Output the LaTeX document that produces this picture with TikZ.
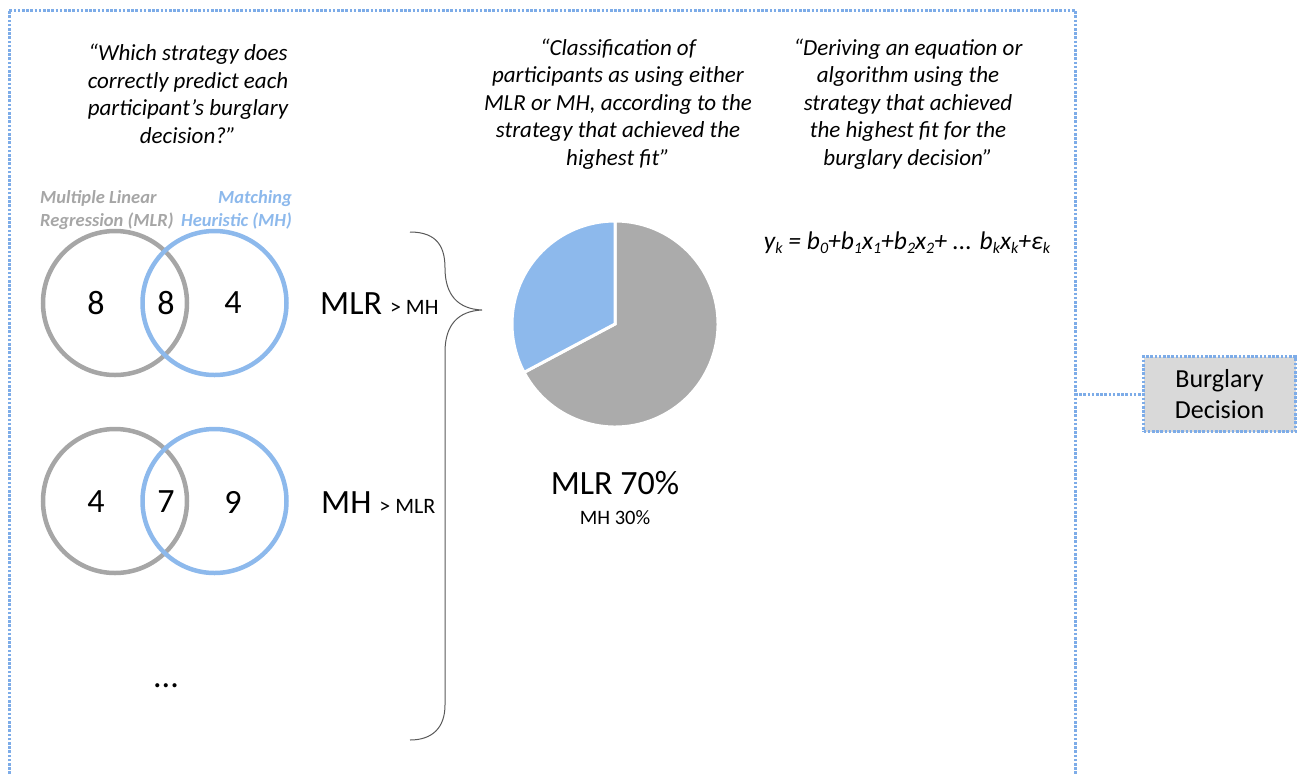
\documentclass[tikz,border=0pt]{standalone}
\usepackage{fontspec}
\setmainfont{Carlito}
\definecolor{lblue}{RGB}{141,185,236}
\definecolor{fblue}{RGB}{125,172,232}
\definecolor{cgray}{RGB}{166,166,166}
\definecolor{pgray}{RGB}{171,171,171}
\definecolor{bfill}{RGB}{217,217,217}
\newcommand\sbx[1]{\raisebox{-0.3ex}{\fontsize{16}{16}\selectfont #1}}
\begin{document}
\begin{tikzpicture}[x=1pt,y=1pt,
  dotline/.style={draw=fblue, line width=3pt, dash pattern=on 2.6pt off 1.6pt},
  quote/.style={align=center, font=\fontsize{23}{27.5}\selectfont\itshape, inner sep=0pt},
  setlabel/.style={font=\fontsize{18.5}{23}\selectfont\bfseries\itshape, inner sep=0pt},
  num/.style={font=\fontsize{34}{34}\selectfont, inner sep=0pt},
  cmp/.style={font=\fontsize{34}{34}\selectfont, inner sep=0pt, anchor=west},
  smalltxt/.style={font=\fontsize{20.5}{20.5}\selectfont, inner sep=0pt},
  graycirc/.style={draw=cgray, line width=4.5pt},
  bluecirc/.style={draw=lblue, line width=4.5pt},
  bracepath/.style={draw=black!65, line width=1pt},
  outbox/.style={dotline, fill=bfill, minimum width=152pt, minimum height=75pt, align=center, font=\fontsize{26}{31}\selectfont, inner sep=0pt}
]
\useasboundingbox (0,0) rectangle (1300,-774);

% outer dotted frame (open at bottom)
\draw[dotline] (9,-774) -- (9,-10) -- (1075,-10) -- (1075,-774);

% quotes
\node[quote] (q1) at (188,-94) {“Which strategy does\\correctly predict each\\participant’s burglary\\decision?”};
\node[quote] (q2) at (618,-104) {“Classification of\\participants as using either\\MLR or MH, according to the\\strategy that achieved the\\highest fit”};
\node[quote] (q3) at (908,-104) {“Deriving an equation or\\algorithm using the\\strategy that achieved\\the highest fit for the\\burglary decision”};

% set labels
\node[setlabel, text=cgray, align=left, anchor=west] (lmlr) at (40,-210) {Multiple Linear\\Regression (MLR)};
\node[setlabel, text=lblue, align=right, anchor=east] (lmh) at (292,-210) {Matching\\Heuristic (MH)};

% venn row 1
\draw[graycirc] (115,-303) circle (72);
\draw[bluecirc] (214.5,-303) circle (72);
\node[num] (a1) at (96,-303) {8};
\node[num] (a2) at (166,-303) {8};
\node[num] (a3) at (233,-303) {4};
\node[cmp] (r1) at (320,-304) {MLR\hspace{8pt}{\fontsize{22}{22}\selectfont > MH}};

% venn row 2
\draw[graycirc] (115,-501) circle (72);
\draw[bluecirc] (214.5,-501) circle (72);
\node[num] (b1) at (96,-502) {4};
\node[num] (b2) at (166,-502) {7};
\node[num] (b3) at (233,-502) {9};
\node[cmp] (r2) at (321,-503) {MH\hspace{8pt}{\fontsize{22}{22}\selectfont > MLR}};

\node[num] (dots) at (166,-686) {...};

% brace
\draw[bracepath] (410,-232) .. controls (438,-232) and (445,-248) .. (445,-268)
  .. controls (445,-295) and (458,-309) .. (482,-310)
  .. controls (458,-311) and (445,-325) .. (445,-352)
  -- (445,-705) .. controls (445,-728) and (432,-740) .. (410,-740);

% pie
\coordinate (pc) at (615,-324);
\fill[pgray, draw=white, line width=3pt] (pc) -- ++(208:103) arc (208:450:103) -- cycle;
\fill[lblue, draw=white, line width=3pt] (pc) -- ++(90:103) arc (90:208:103) -- cycle;
\node[num] (p1) at (615,-483) {MLR 70\%};
\node[smalltxt] (p2) at (615,-518) {MH 30\%};

% equation
\node[font=\fontsize{25.5}{25.5}\selectfont\itshape, inner sep=0pt] (eq) at (907,-243) {y\sbx{k} = b\sbx{0}+b\sbx{1}x\sbx{1}+b\sbx{2}x\sbx{2}+ ... b\sbx{k}x\sbx{k}+ε\sbx{k}};

% output box
\node[outbox] (bd) at (1219.5,-394) {Burglary\\Decision};
\coordinate (fr) at (1075,-394);
\draw[dotline] (fr) -- (bd.west);
\end{tikzpicture}
\end{document}
